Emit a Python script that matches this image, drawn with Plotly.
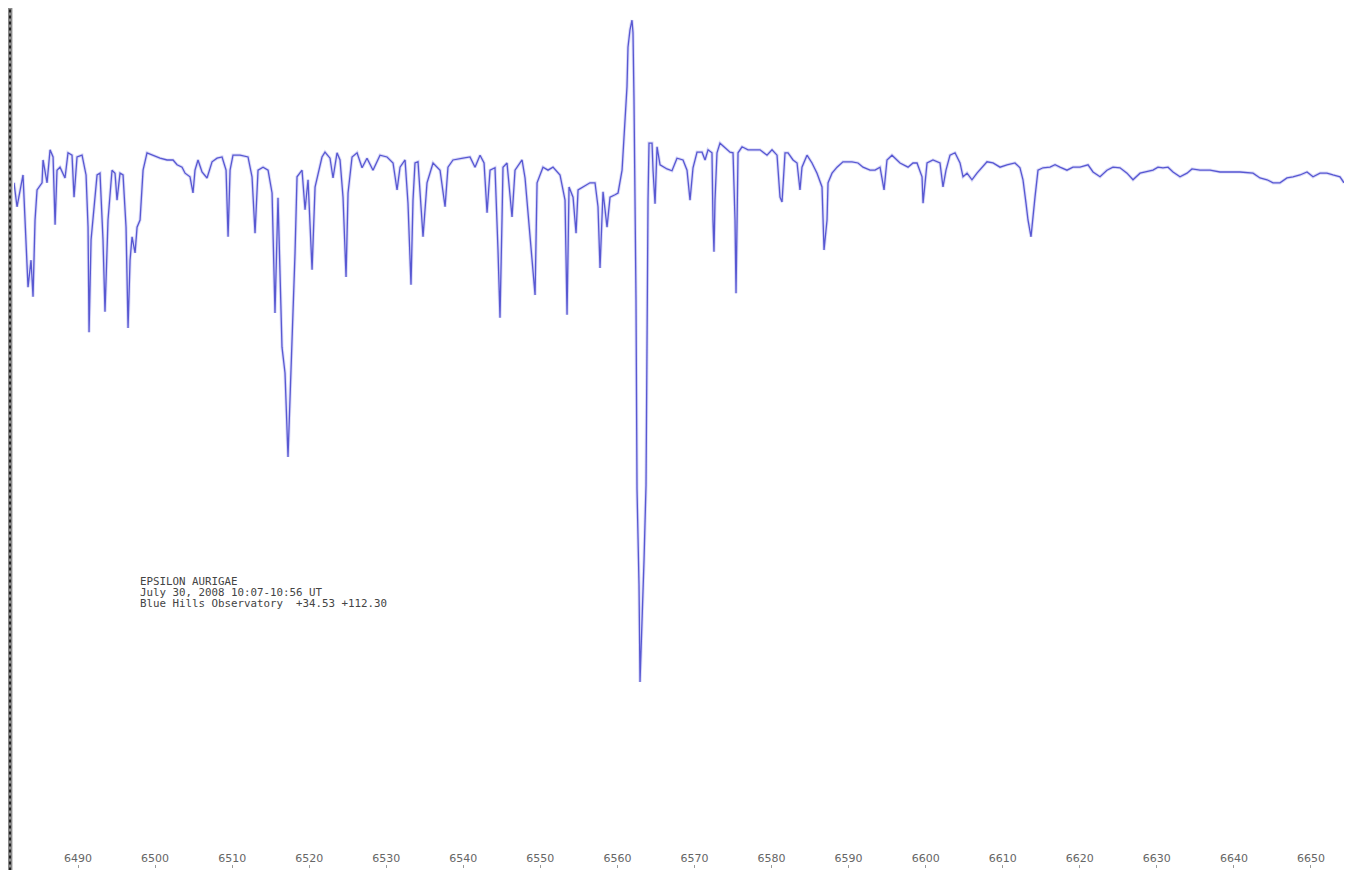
import plotly.graph_objects as go

# Wavelength (Angstrom) and relative intensity
wavelength = [
    6481.69, 6482.08, 6482.86, 6483.51, 6483.90, 6484.16, 6484.42, 6484.68, 6485.33, 6485.46,
    6485.98, 6486.37, 6486.76, 6487.02, 6487.27, 6487.66, 6488.31, 6488.70, 6489.22, 6489.48,
    6489.87, 6490.52, 6491.04, 6491.30, 6491.43, 6491.69, 6492.47, 6492.85, 6493.24, 6493.50,
    6493.89, 6494.41, 6494.80, 6495.06, 6495.45, 6495.84, 6496.23, 6496.49, 6496.75, 6497.01,
    6497.40, 6497.66, 6498.05, 6498.44, 6498.95, 6499.73, 6500.64, 6501.55, 6502.33, 6502.85,
    6503.50, 6503.89, 6504.53, 6504.92, 6505.18, 6505.57, 6506.09, 6506.74, 6507.39, 6508.04,
    6508.69, 6509.21, 6509.47, 6509.73, 6510.11, 6511.02, 6512.06, 6512.58, 6512.97, 6513.36,
    6514.01, 6514.66, 6515.18, 6515.56, 6515.95, 6516.47, 6516.86, 6517.25, 6517.51, 6517.77,
    6518.16, 6518.42, 6519.07, 6519.46, 6519.85, 6520.37, 6520.76, 6521.66, 6522.05, 6522.70,
    6523.09, 6523.61, 6524.00, 6524.39, 6524.78, 6525.04, 6525.56, 6526.21, 6526.86, 6527.50,
    6528.28, 6529.19, 6530.10, 6530.88, 6531.40, 6531.79, 6532.44, 6532.82, 6533.21, 6533.47,
    6533.73, 6534.12, 6534.77, 6535.29, 6536.07, 6536.98, 6537.63, 6538.01, 6538.66, 6539.96,
    6540.87, 6541.52, 6542.17, 6542.69, 6543.08, 6543.47, 6544.11, 6544.50, 6544.76, 6545.02,
    6545.15, 6545.67, 6546.32, 6546.71, 6547.62, 6548.01, 6548.66, 6548.92, 6549.31, 6549.57,
    6550.34, 6550.99, 6551.64, 6552.55, 6553.20, 6553.46, 6553.72, 6554.24, 6554.63, 6554.89,
    6555.53, 6556.44, 6557.09, 6557.48, 6557.74, 6558.13, 6558.65, 6559.04, 6559.69, 6560.08,
    6560.60, 6560.72, 6560.98, 6561.24, 6561.37, 6561.63, 6561.89, 6562.02, 6562.15, 6562.28,
    6562.41, 6562.54, 6562.80, 6562.93, 6563.19, 6563.45, 6563.71, 6563.84, 6563.97, 6564.10,
    6564.49, 6564.62, 6564.88, 6565.14, 6565.53, 6566.43, 6567.08, 6567.73, 6568.51, 6569.03,
    6569.42, 6569.81, 6570.33, 6570.98, 6571.37, 6571.76, 6572.27, 6572.40, 6572.53, 6572.66,
    6572.92, 6573.31, 6573.96, 6574.61, 6575.00, 6575.26, 6575.39, 6575.52, 6575.65, 6576.17,
    6576.95, 6578.50, 6579.41, 6580.06, 6580.71, 6581.10, 6581.36, 6581.75, 6582.14, 6582.79,
    6583.31, 6583.69, 6583.95, 6584.60, 6585.25, 6585.90, 6586.55, 6586.81, 6587.20, 6587.33,
    6587.85, 6588.50, 6589.27, 6590.44, 6591.22, 6591.87, 6592.78, 6593.43, 6594.08, 6594.60,
    6594.98, 6595.63, 6596.67, 6597.71, 6598.36, 6598.88, 6599.53, 6599.66, 6600.18, 6600.95,
    6601.86, 6602.25, 6602.64, 6603.16, 6603.81, 6604.46, 6604.85, 6605.37, 6606.01, 6606.66,
    6607.31, 6607.96, 6608.74, 6609.65, 6610.56, 6611.59, 6612.24, 6612.63, 6613.02, 6613.28,
    6613.67, 6613.93, 6614.19, 6614.58, 6615.23, 6616.14, 6616.79, 6617.43, 6618.34, 6619.12,
    6620.03, 6621.07, 6621.72, 6622.63, 6623.53, 6624.31, 6625.22, 6626.13, 6626.91, 6627.82,
    6628.72, 6629.50, 6630.15, 6630.80, 6631.45, 6632.10, 6633.01, 6633.92, 6634.56, 6635.60,
    6636.90, 6638.20, 6639.50, 6640.79, 6642.48, 6643.39, 6644.30, 6645.08, 6645.98, 6646.89,
    6647.67, 6648.58, 6649.49, 6650.27, 6651.18, 6652.08, 6652.86, 6653.77, 6654.29,
]

intensity = [
    96.2, 92.2, 97.5, 78.8, 83.3, 77.2, 90.0, 95.0, 96.2, 100.0,
    96.2, 101.7, 100.5, 89.2, 98.3, 98.8, 97.0, 101.2, 100.8, 93.8,
    100.5, 100.8, 97.5, 88.8, 71.3, 86.7, 97.5, 97.8, 86.7, 74.7,
    90.0, 98.3, 97.8, 93.3, 97.8, 97.5, 88.8, 72.0, 83.3, 87.2,
    84.5, 88.8, 90.0, 98.3, 101.2, 100.8, 100.3, 100.0, 100.0, 99.2,
    98.8, 97.8, 97.2, 94.5, 98.3, 100.0, 98.0, 97.0, 99.7, 100.3,
    100.5, 98.3, 87.2, 98.3, 100.8, 100.8, 100.5, 97.2, 87.8, 98.3,
    98.8, 98.3, 94.5, 74.5, 93.7, 68.8, 64.5, 50.5, 60.0, 72.8,
    84.5, 97.2, 98.3, 91.7, 96.7, 81.7, 95.5, 100.5, 101.3, 100.3,
    97.0, 101.2, 100.0, 93.8, 80.5, 94.5, 100.5, 101.2, 98.7, 100.3,
    98.3, 100.8, 100.5, 99.5, 95.0, 98.8, 100.0, 92.8, 79.2, 93.3,
    99.5, 99.7, 87.2, 96.2, 99.5, 98.3, 92.2, 98.8, 100.0, 100.3,
    100.5, 98.8, 100.8, 99.5, 91.2, 98.3, 98.7, 85.0, 73.7, 90.0,
    98.8, 99.5, 90.5, 98.3, 100.0, 97.0, 87.8, 83.3, 77.5, 96.2,
    98.8, 98.3, 98.8, 97.5, 93.3, 74.2, 95.5, 93.8, 87.8, 95.0,
    95.5, 96.2, 96.2, 92.2, 82.0, 94.7, 88.8, 93.8, 94.2, 94.5,
    98.3, 101.2, 107.8, 112.2, 118.8, 121.7, 123.3, 121.2, 110.0, 96.7,
    76.7, 45.2, 29.2, 13.0, 22.5, 33.3, 45.8, 78.8, 93.3, 102.8,
    102.8, 98.3, 92.7, 102.2, 99.2, 98.5, 98.2, 100.3, 100.0, 98.3,
    93.3, 98.7, 101.3, 101.3, 100.0, 101.7, 101.2, 90.0, 84.7, 93.3,
    101.2, 102.8, 102.0, 101.3, 101.2, 90.0, 77.8, 93.3, 101.2, 102.2,
    101.7, 101.7, 100.8, 101.7, 100.8, 93.8, 93.0, 101.2, 101.2, 100.0,
    99.5, 95.0, 98.8, 100.8, 99.5, 97.8, 95.5, 85.0, 90.0, 96.2,
    97.8, 98.8, 99.7, 99.7, 99.5, 98.8, 98.3, 98.3, 98.8, 95.0,
    100.0, 100.8, 99.5, 98.8, 99.5, 99.5, 97.2, 92.8, 99.5, 100.0,
    99.5, 95.5, 98.3, 100.8, 101.2, 99.5, 97.2, 97.8, 96.7, 97.8,
    98.8, 99.7, 99.5, 98.8, 99.2, 99.5, 98.7, 96.7, 92.8, 90.0,
    87.2, 90.0, 93.8, 98.3, 98.7, 98.8, 99.2, 98.8, 98.3, 98.8,
    98.8, 99.2, 98.0, 97.2, 98.3, 98.8, 98.7, 97.8, 96.7, 97.8,
    98.0, 98.3, 98.8, 98.7, 98.8, 98.0, 97.2, 97.8, 98.5, 98.3,
    98.3, 98.0, 98.0, 98.0, 97.8, 97.0, 96.7, 96.2, 96.2, 97.0,
    97.2, 97.5, 98.0, 97.2, 97.8, 97.8, 97.5, 97.2, 96.2,
]

tick_values = [6490, 6500, 6510, 6520, 6530, 6540, 6550, 6560, 6570,
               6580, 6590, 6600, 6610, 6620, 6630, 6640, 6650]
tick_labels = [str(v) for v in tick_values]

label_lines = [
    "EPSILON AURIGAE",
    "July 30, 2008 10:07-10:56 UT",
    "Blue Hills Observatory  +34.53 +112.30",
]
label_y = [0.3326, 0.3198, 0.3070]

fig = go.Figure()
# soft halo (the reference line is slightly blurred)
fig.add_trace(go.Scatter(
    x=wavelength, y=intensity, mode="lines",
    line=dict(color="rgba(150,150,235,0.35)", width=3.2),
    hoverinfo="skip", showlegend=False,
))
fig.add_trace(go.Scatter(
    x=wavelength, y=intensity, mode="lines",
    line=dict(color="#5858d2", width=1.3),
    hoverinfo="skip", showlegend=False,
))

annotations = [
    dict(xref="paper", yref="paper", x=0.0932, y=yy,
         xanchor="left", yanchor="middle", align="left", showarrow=False,
         text=t, font=dict(family="DejaVu Sans Mono", size=10.8, color="#444"))
    for t, yy in zip(label_lines, label_y)
]

fig.update_layout(
    width=1345, height=862,
    margin=dict(l=6, r=9, t=0, b=2),
    paper_bgcolor="white", plot_bgcolor="white",
    showlegend=False,
    xaxis=dict(
        range=[6481.69, 6654.29],
        tickvals=tick_values, ticktext=tick_labels,
        ticks="inside", ticklen=3, tickcolor="#999",
        ticklabelposition="inside",
        tickfont=dict(family="DejaVu Sans", size=11, color="#666"),
        showgrid=False, zeroline=False, showline=False,
    ),
    yaxis=dict(
        range=[-18.0, 125.33],
        showticklabels=False, ticks="", showgrid=False,
        zeroline=False, showline=False,
    ),
    annotations=annotations,
    shapes=[
        dict(type="rect", xref="paper", yref="paper", x0=-0.0046, x1=-0.0012, y0=-0.01, y1=1.01,
             fillcolor="#8a8a8a", line=dict(width=0), layer="above"),
        dict(type="line", xref="paper", yref="paper", x0=-0.0030, x1=-0.0030, y0=-0.01, y1=1.01,
             line=dict(color="#222", width=2, dash="dot"), layer="above"),
        dict(type="line", xref="paper", yref="paper", x0=1.0045, x1=1.0045, y0=-0.01, y1=1.01,
             line=dict(color="#aaa", width=2, dash="dot"), layer="above"),
    ],
)

fig.write_html("out.html")
